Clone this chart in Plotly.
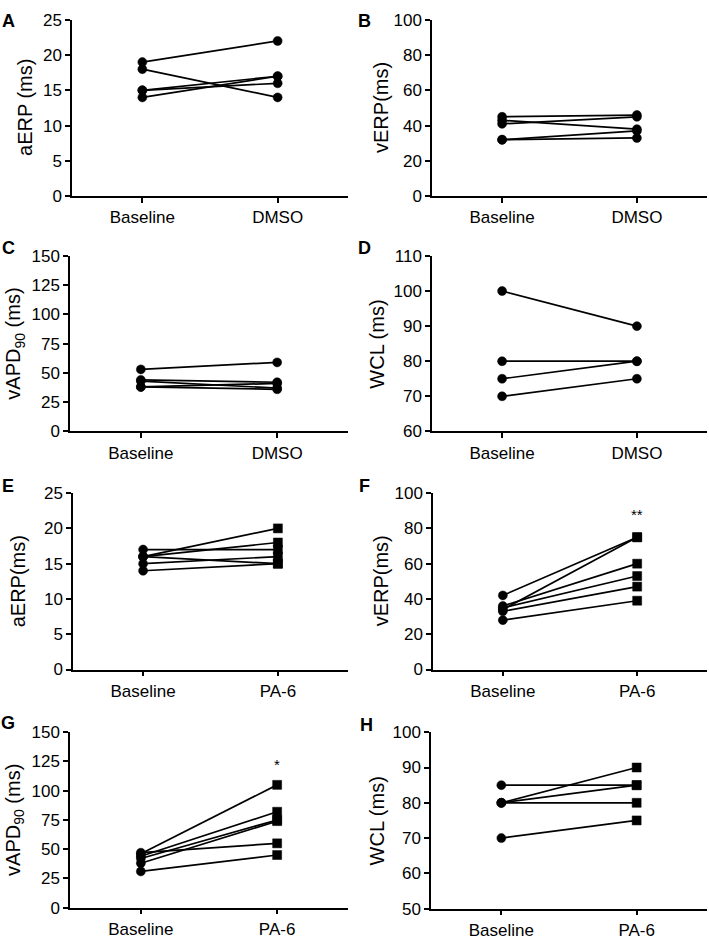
import plotly.graph_objects as go

W, H = 709, 950

# ---------------- data ----------------
cats_dmso = ["Baseline", "DMSO"]
cats_pa6 = ["Baseline", "PA-6"]

a_base = [19, 18, 15, 15, 14]
a_dmso = [22, 14, 17, 16, 17]

b_base = [45, 43, 41, 32, 32]
b_dmso = [46, 38, 45, 37, 33]

c_base = [53, 44, 43, 38, 38]
c_dmso = [59, 42, 37, 41, 36]

d_base = [100, 80, 75, 70]
d_dmso = [90, 80, 80, 75]

e_base = [16, 17, 16, 15, 14, 16]
e_pa6 = [20, 17, 18, 16, 15, 15]

f_base = [42, 34, 36, 35, 33, 28]
f_pa6 = [75, 75, 60, 53, 47, 39]

g_base = [46, 44, 42, 38, 47, 31]
g_pa6 = [105, 82, 75, 74, 55, 45]

h_base = [85, 80, 80, 80, 70]
h_pa6 = [85, 90, 85, 80, 75]

panels = [
    dict(letter="A", title="aERP (ms)", cats=cats_dmso, base=a_base, post=a_dmso,
         yrange=[0, 25], dtick=5, sym="circle", star=None, star_y=None),
    dict(letter="B", title="vERP(ms)", cats=cats_dmso, base=b_base, post=b_dmso,
         yrange=[0, 100], dtick=20, sym="circle", star=None, star_y=None),
    dict(letter="C", title="vAPD<sub>90</sub> (ms)", cats=cats_dmso, base=c_base, post=c_dmso,
         yrange=[0, 150], dtick=25, sym="circle", star=None, star_y=None),
    dict(letter="D", title="WCL (ms)", cats=cats_dmso, base=d_base, post=d_dmso,
         yrange=[60, 110], dtick=10, sym="circle", star=None, star_y=None),
    dict(letter="E", title="aERP(ms)", cats=cats_pa6, base=e_base, post=e_pa6,
         yrange=[0, 25], dtick=5, sym="square", star=None, star_y=None),
    dict(letter="F", title="vERP(ms)", cats=cats_pa6, base=f_base, post=f_pa6,
         yrange=[0, 100], dtick=20, sym="square", star="**", star_y=88),
    dict(letter="G", title="vAPD<sub>90</sub> (ms)", cats=cats_pa6, base=g_base, post=g_pa6,
         yrange=[0, 150], dtick=25, sym="square", star="*", star_y=122),
    dict(letter="H", title="WCL (ms)", cats=cats_pa6, base=h_base, post=h_pa6,
         yrange=[50, 100], dtick=10, sym="square", star=None, star_y=None),
]

# pixel geometry of each panel: (x0, x1, ytop, ybottom), title x, letter pos
geom = [
    (72, 348, 11, 191, 25, 8, 12),
    (432, 707, 11, 191, 381, 364, 12),
    (70, 348, 252, 431, 15, 8, 244),
    (432, 707, 252, 431, 377, 364, 244),
    (73, 348, 494, 674, 18, 8, 487),
    (433, 707, 494, 674, 381, 364, 487),
    (70, 348, 738, 917, 15, 8, 729),
    (431, 707, 738, 918, 377, 366, 731),
]

FONT = "Liberation Sans, Arial, Helvetica, sans-serif"

fig = go.Figure()
annotations = []
layout = {}

for i, (p, g) in enumerate(zip(panels, geom)):
    x0, x1, yt, yb, tx, lx, ly = g
    n = i + 1
    xa = "x" if n == 1 else f"x{n}"
    ya = "y" if n == 1 else f"y{n}"
    xkey = "xaxis" if n == 1 else f"xaxis{n}"
    ykey = "yaxis" if n == 1 else f"yaxis{n}"

    for j, (b, q) in enumerate(zip(p["base"], p["post"])):
        fig.add_trace(go.Scatter(
            x=[0, 1], y=[b, q], mode="lines+markers",
            line=dict(color="black", width=1.7),
            marker=dict(symbol=["circle", p["sym"]], size=[9, 9], color="black",
                        opacity=1, line=dict(width=0.5, color="black")),
            opacity=1,
            xaxis=xa, yaxis=ya, showlegend=False, cliponaxis=False,
        ))

    layout[xkey] = dict(
        domain=[x0 / W, x1 / W], range=[-0.52, 1.52], anchor=ya,
        tickmode="array", tickvals=[0, 1], ticktext=p["cats"],
        showline=True, linecolor="black", linewidth=1.5,
        ticks="outside", ticklen=5, tickwidth=1.5, tickcolor="black",
        showgrid=False, zeroline=False, fixedrange=True,
        tickfont=dict(family=FONT, size=17, color="black"),
    )
    layout[ykey] = dict(
        domain=[1 - yb / H, 1 - yt / H], range=p["yrange"], anchor=xa,
        dtick=p["dtick"], tick0=p["yrange"][0],
        showline=True, linecolor="black", linewidth=1.5,
        ticks="outside", ticklen=5, tickwidth=1.5, tickcolor="black",
        showgrid=False, zeroline=False, fixedrange=True,
        tickfont=dict(family=FONT, size=17, color="black"),
    )

    annotations.append(dict(
        text=p["title"], xref="paper", yref="paper",
        x=tx / W, y=1 - (yt + yb) / 2 / H, textangle=-90,
        xanchor="center", yanchor="middle", showarrow=False,
        font=dict(family=FONT, size=20, color="black"),
    ))
    annotations.append(dict(
        text=f"<b>{p['letter']}</b>", xref="paper", yref="paper",
        x=lx / W, y=1 - ly / H, xanchor="center", yanchor="middle",
        showarrow=False, font=dict(family=FONT, size=18, color="black"),
    ))
    if p["star"]:
        annotations.append(dict(
            text=p["star"], xref=xa, yref=ya, x=1, y=p["star_y"],
            xanchor="center", yanchor="middle", showarrow=False,
            font=dict(family=FONT, size=15, color="black"),
        ))

fig.update_layout(
    width=W, height=H, margin=dict(l=0, r=0, t=0, b=0),
    paper_bgcolor="white", plot_bgcolor="white",
    annotations=annotations, showlegend=False,
    **layout,
)

post_js = (
    "document.documentElement.style.margin='0';"
    "document.documentElement.style.overflow='hidden';"
    "document.body.style.margin='0';"
    "document.body.style.overflow='hidden';"
    "var d=document.getElementById('{plot_id}');"
    "d.style.position='fixed';d.style.left='0px';d.style.top='0px';"
)

fig.write_html(
    "out.html",
    config={"displayModeBar": False},
    post_script=post_js,
)
